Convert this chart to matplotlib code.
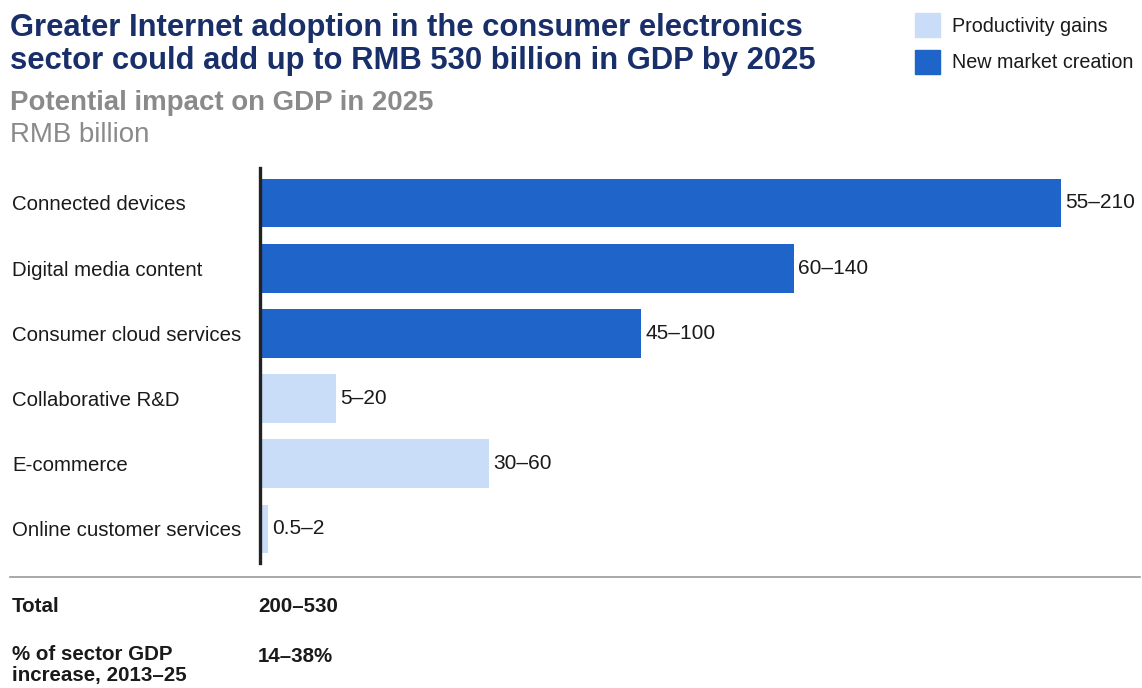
import matplotlib.pyplot as plt
from matplotlib.patches import Rectangle

plt.rcParams['font.family'] = ['Liberation Sans', 'DejaVu Sans']

categories = ['Connected devices', 'Digital media content', 'Consumer cloud services',
              'Collaborative R&D', 'E-commerce', 'Online customer services']
low = [55, 60, 45, 5, 30, 0.5]
high = [210, 140, 100, 20, 60, 2]
groups = ['new', 'new', 'new', 'prod', 'prod', 'prod']
range_labels = ['55–210', '60–140', '45–100', '5–20', '30–60', '0.5–2']

total_label = '200–530'
share_label = '14–38%'

DARK = '#1f64c8'
LIGHT = '#c9ddf8'
NAVY = '#192f6a'
GREY = '#8a8a8a'
INK = '#1a1a1a'

fig = plt.figure(figsize=(11.42, 6.88), dpi=100)
W, H = 1142, 688

ax = fig.add_axes([260 / W, 1 - 561.6 / H, (1061 - 260) / W, (561.6 - 170.4) / H])
colors = [DARK if g == 'new' else LIGHT for g in groups]
ypos = list(range(len(categories)))
ax.barh(ypos, high, height=0.75, color=colors, zorder=2)
for y, v, lab in zip(ypos, high, range_labels):
    ax.annotate(lab, (v, y), xytext=(3, 0), textcoords='offset points',
                va='center', ha='left', fontsize=15, color=INK)
ax.set_xlim(0, 210)
ax.set_ylim(5.5, -0.5)
ax.set_yticks(ypos)
ax.set_yticklabels(categories, fontsize=14.7, color=INK)
for t in ax.get_yticklabels():
    t.set_horizontalalignment('left')
# labels start at the figure's left margin
ax.tick_params(axis='y', length=0, pad=(260 - 12) * 0.72)
ax.set_xticks([])
for s in ['top', 'right', 'bottom']:
    ax.spines[s].set_visible(False)
ax.spines['left'].set_linewidth(2.4)
ax.spines['left'].set_color('#222222')
ax.spines['left'].set_bounds(-0.53, 5.52)

# headings
fig.text(10 / W, 1 - 13 / H, 'Greater Internet adoption in the consumer electronics\n'
         'sector could add up to RMB 530 billion in GDP by 2025',
         fontsize=22.3, fontweight='bold', color=NAVY, va='top', ha='left',
         linespacing=1.13)
fig.text(10 / W, 1 - 90 / H, 'Potential impact on GDP in 2025', fontsize=19.9,
         fontweight='bold', color=GREY, va='top', ha='left')
fig.text(10 / W, 1 - 122 / H, 'RMB billion', fontsize=19.9, color=GREY,
         va='top', ha='left')

# legend
for yy, c, lab in [(13, LIGHT, 'Productivity gains'), (50, DARK, 'New market creation')]:
    fig.patches.append(Rectangle((915 / W, 1 - (yy + 24) / H), 25 / W, 24 / H,
                                 transform=fig.transFigure, color=c))
    fig.text(952 / W, 1 - (yy + 13) / H, lab, fontsize=14.2, color=INK,
             va='center', ha='left')

# separator and totals
fig.add_artist(plt.Line2D([10 / W, 1140 / W], [1 - 577 / H, 1 - 577 / H],
                          color='#999999', linewidth=1.2))
fig.text(12 / W, 1 - 606 / H, 'Total', fontsize=14.8, fontweight='bold',
         color=INK, va='center', ha='left')
fig.text(258 / W, 1 - 606 / H, total_label, fontsize=14.8, fontweight='bold',
         color=INK, va='center', ha='left')
fig.text(12 / W, 1 - 645 / H, '% of sector GDP\nincrease, 2013–25', fontsize=14.8,
         fontweight='bold', color=INK, va='top', ha='left', linespacing=1.15)
fig.text(258 / W, 1 - 656 / H, share_label, fontsize=14.8, fontweight='bold',
         color=INK, va='center', ha='left')

fig.savefig('out.png', dpi=100)
